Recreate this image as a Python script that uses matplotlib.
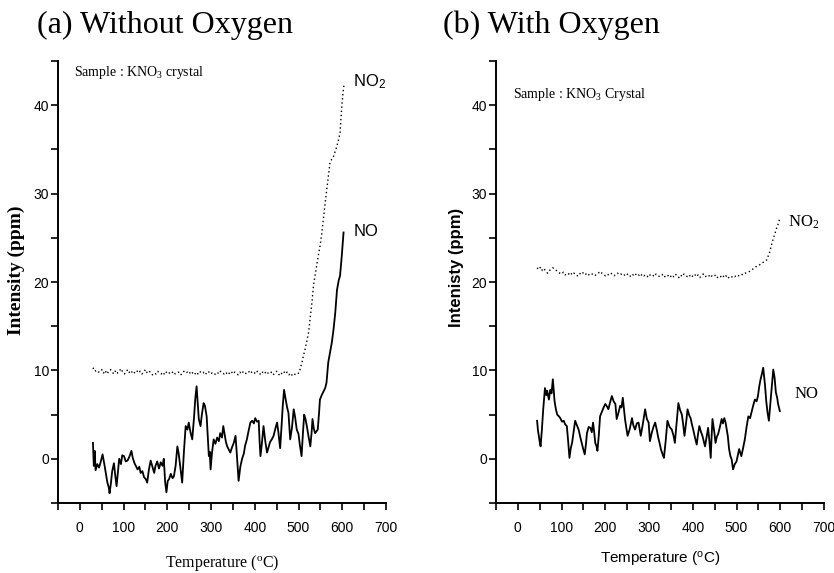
#!/usr/bin/env python3
"""KNO3 crystal decomposition: NO / NO2 evolution without and with oxygen."""

import matplotlib
matplotlib.use('Agg')
import matplotlib.pyplot as plt
from matplotlib.ticker import MultipleLocator

plt.rcParams['mathtext.default'] = 'regular'

SERIF = ['Liberation Serif', 'DejaVu Serif']
SANS = ['Liberation Sans', 'DejaVu Sans']

# (a) without oxygen -- NO
a_no_t = [30, 32, 34, 36, 40, 44, 48, 52, 56, 60, 63, 66, 68, 71, 74, 78, 81, 84, 87, 90,
          94, 97, 101, 105, 109, 113, 118, 121, 125, 128, 132, 136, 139, 143, 147, 151, 154,
          158, 162, 166, 170, 173, 177, 181, 185, 189, 192, 195, 198, 201, 204, 208, 212, 215,
          219, 223, 226, 230, 234, 238, 242, 246, 249, 253, 257, 261, 264, 267, 270, 272, 276,
          279, 283, 286, 290, 293, 295, 297, 299, 302, 306, 310, 314, 318, 321, 325, 328, 331,
          334, 337, 341, 344, 348, 352, 356, 359, 363, 367, 371, 375, 378, 382, 386, 390, 394,
          398, 401, 405, 409, 411, 413, 416, 420, 424, 428, 432, 435, 439, 443, 447, 451, 454,
          458, 461, 464, 467, 470, 474, 477, 479, 481, 485, 489, 492, 496, 500, 503, 507, 510,
          513, 516, 519, 523, 527, 530, 532, 535, 538, 541, 544, 547, 549, 553, 557, 561, 564,
          568, 572, 576, 580, 584, 588, 592, 595, 599, 603]
a_no = [1.8, -0.8, 0.9, -1.3, -0.6, -1.0, -0.3, 0.5, -0.6, -1.8, -2.7, -3.2, -3.9, -2.8, -1.4,
        -0.5, -1.9, -3.1, -1.5, 0.0, -0.6, 0.4, 0.3, -0.3, -0.2, 0.2, 0.9, 0.1, -0.5, -0.8, -1.2,
        -0.9, -1.6, -1.4, -2.1, -2.3, -2.7, -1.2, -0.2, -0.9, -1.6, -0.8, -0.3, -1.1, -0.4, -0.8,
        0.0, -2.6, -3.8, -2.5, -2.3, -1.7, -2.2, -2.0, -0.8, 1.4, 0.6, -1.0, -2.7, 0.8, 3.7, 3.3,
        4.1, 3.0, 2.2, 4.6, 6.8, 8.2, 6.0, 4.5, 3.7, 5.0, 6.3, 6.0, 4.8, 2.0, 0.3, 0.8, -1.2, 0.6,
        2.2, 1.7, 2.4, 2.0, 2.9, 2.4, 3.7, 2.8, 1.9, 1.4, 1.0, 0.7, 1.3, 1.8, 2.6, 0.5, -2.5,
        -0.9, 0.0, 0.6, 1.5, 2.2, 3.2, 4.1, 4.3, 4.0, 4.6, 4.2, 4.3, 2.0, 0.3, 1.6, 3.7, 2.0, 0.7,
        1.4, 1.9, 2.2, 2.6, 3.4, 4.1, 3.0, 1.2, 3.5, 6.0, 7.8, 6.9, 5.8, 5.2, 3.6, 2.2, 3.5, 5.6,
        4.8, 3.3, 2.8, 1.6, 0.3, 2.8, 5.0, 4.5, 3.7, 2.5, 1.4, 3.0, 4.5, 3.4, 2.9, 3.1, 3.3, 5.2,
        6.7, 7.2, 7.6, 8.0, 8.6, 10.9, 12.0, 13.1, 14.6, 16.5, 19.1, 20.2, 20.7, 23.0, 25.6]

# (a) without oxygen -- NO2
a_no2_t = [30, 34, 38, 42, 46, 50, 54, 58, 62, 66, 70, 74, 78, 82, 86, 90, 94, 98, 102, 106,
           110, 114, 118, 122, 126, 130, 134, 138, 142, 146, 150, 154, 158, 162, 166, 170, 174,
           178, 182, 186, 190, 194, 198, 202, 206, 210, 214, 218, 222, 226, 230, 234, 238, 242,
           246, 250, 254, 258, 262, 266, 270, 274, 278, 282, 286, 290, 294, 298, 302, 306, 310,
           314, 318, 322, 326, 330, 334, 338, 342, 346, 350, 354, 358, 362, 366, 370, 374, 378,
           382, 386, 390, 394, 398, 402, 406, 410, 414, 418, 422, 426, 430, 434, 438, 442, 446,
           450, 454, 458, 462, 466, 470, 474, 478, 482, 486, 490, 494, 498, 502, 505, 508, 511,
           515, 519, 523, 527, 531, 534, 538, 542, 546, 549, 553, 557, 561, 565, 569, 572, 576,
           580, 584, 588, 592, 595, 599, 602, 604]
a_no2 = [10.3, 9.9, 10.0, 9.8, 9.9, 10.1, 9.7, 10.0, 9.6, 9.9, 10.1, 9.8, 9.6, 10.0, 9.7, 9.9,
         10.2, 9.8, 9.6, 9.9, 10.1, 9.7, 9.9, 9.6, 9.8, 10.0, 9.7, 9.9, 9.6, 9.8, 10.1, 9.7, 9.9,
         9.8, 9.5, 9.7, 9.6, 9.9, 9.7, 9.6, 9.8, 9.5, 9.8, 9.9, 9.6, 9.7, 9.9, 9.6, 9.7, 9.8, 9.5,
         9.6, 9.9, 9.7, 9.8, 9.6, 9.9, 9.7, 9.5, 9.8, 9.6, 9.9, 9.7, 9.8, 9.5, 9.7, 9.9, 9.6, 9.7,
         9.5, 9.6, 9.8, 9.6, 9.9, 9.7, 9.6, 9.8, 9.5, 9.7, 9.9, 9.6, 9.8, 9.7, 9.5, 9.8, 9.6, 9.9,
         9.7, 9.6, 9.8, 10.0, 9.7, 9.8, 9.6, 9.9, 9.7, 9.5, 9.8, 9.6, 9.9, 9.7, 9.6, 9.8, 9.5,
         9.7, 9.9, 9.6, 9.4, 9.7, 9.9, 9.6, 9.8, 9.5, 9.7, 9.4, 9.6, 9.5, 9.6, 9.8, 10.4, 10.9,
         11.6, 12.4, 13.3, 14.3, 16.0, 17.8, 19.5, 20.8, 22.0, 23.2, 24.0, 25.4, 27.2, 29.0, 30.6,
         32.3, 33.5, 33.9, 34.2, 34.8, 35.4, 36.2, 36.9, 39.9, 41.5, 42.3]

# (b) with oxygen -- NO
b_no_t = [44, 46, 48, 50, 52, 55, 58, 62, 65, 67, 71, 74, 77, 80, 84, 87, 90, 94, 97, 101,
          105, 108, 112, 115, 118, 121, 124, 128, 131, 135, 139, 143, 147, 150, 153, 156, 158,
          162, 166, 169, 172, 175, 177, 180, 182, 185, 188, 192, 196, 200, 204, 207, 211, 215,
          219, 223, 226, 230, 234, 237, 240, 243, 245, 248, 251, 256, 261, 264, 268, 272, 276,
          279, 281, 286, 291, 295, 299, 302, 306, 310, 314, 318, 321, 324, 327, 331, 334, 338,
          342, 347, 352, 356, 359, 363, 367, 371, 375, 378, 381, 385, 388, 392, 395, 398, 401,
          405, 409, 412, 415, 419, 422, 425, 428, 432, 435, 438, 441, 443, 445, 449, 452, 455,
          458, 462, 466, 469, 472, 475, 477, 480, 483, 486, 489, 492, 496, 500, 503, 506, 509,
          511, 515, 519, 523, 527, 531, 534, 538, 542, 546, 549, 552, 555, 558, 561, 565, 568,
          571, 574, 577, 580, 584, 587, 590, 593, 595, 597, 599]
b_no = [4.3, 3.2, 2.6, 1.9, 1.4, 3.3, 5.6, 8.0, 7.2, 7.7, 6.7, 7.8, 7.4, 9.0, 6.5, 5.6, 5.0, 4.8,
        4.6, 4.2, 4.3, 3.9, 3.7, 2.0, 0.1, 1.2, 1.8, 3.2, 4.3, 3.8, 3.3, 2.4, 1.6, 1.0, 0.5, 1.8,
        2.9, 3.6, 3.5, 3.0, 4.1, 2.8, 1.8, 1.4, 0.9, 2.6, 4.8, 5.3, 5.8, 6.2, 5.9, 5.6, 6.4, 7.1,
        6.5, 6.2, 4.5, 5.2, 6.0, 5.8, 6.9, 5.4, 4.5, 3.5, 2.6, 3.4, 4.6, 3.8, 3.3, 4.0, 4.1, 3.2,
        2.6, 4.0, 5.6, 4.5, 4.1, 2.0, 2.9, 3.6, 4.1, 3.2, 2.4, 1.8, 1.1, 0.5, 0.1, 2.0, 4.3, 3.6,
        3.3, 2.6, 1.8, 4.0, 6.3, 5.5, 5.0, 3.9, 2.6, 4.2, 5.6, 4.9, 4.6, 3.9, 3.3, 2.4, 1.6, 2.8,
        3.7, 3.0, 2.6, 2.0, 1.4, 2.6, 3.5, 2.0, 0.1, 2.5, 4.5, 3.1, 1.8, 2.5, 2.8, 3.6, 4.5, 4.0,
        4.6, 4.1, 3.5, 2.6, 1.1, 0.3, -0.1, -1.2, -0.6, -0.3, 0.4, 1.1, 0.6, 0.3, 1.2, 2.2, 3.6,
        4.8, 4.6, 5.2, 6.0, 6.7, 6.5, 7.1, 8.2, 9.0, 9.6, 10.3, 8.4, 6.5, 5.2, 4.3, 6.0, 7.8,
        10.1, 9.2, 7.5, 6.9, 6.2, 5.8, 5.4]

# (b) with oxygen -- NO2
b_no2_t = [44, 48, 52, 56, 60, 64, 68, 72, 76, 80, 84, 88, 92, 96, 100, 104, 108, 112, 116, 120,
           124, 128, 132, 136, 140, 144, 148, 152, 156, 160, 164, 168, 172, 176, 180, 184, 188,
           192, 196, 200, 204, 208, 212, 216, 220, 224, 228, 232, 236, 240, 244, 248, 252, 256,
           260, 264, 268, 272, 276, 280, 284, 288, 292, 296, 300, 304, 308, 312, 316, 320, 324,
           328, 332, 336, 340, 344, 348, 352, 356, 360, 364, 368, 372, 376, 380, 384, 388, 392,
           396, 400, 404, 408, 412, 416, 420, 424, 428, 432, 436, 440, 444, 448, 452, 456, 460,
           464, 468, 472, 476, 480, 484, 488, 492, 496, 500, 505, 510, 515, 520, 525, 530, 534,
           538, 543, 548, 552, 556, 560, 564, 569, 572, 576, 580, 584, 588, 591, 594, 597, 599]
b_no2 = [21.6, 21.4, 21.7, 21.3, 21.5, 21.2, 21.0, 21.3, 21.4, 21.6, 21.5, 21.3, 21.1, 21.0, 20.9,
         21.1, 20.8, 21.0, 20.9, 21.1, 20.8, 21.0, 20.9, 20.7, 21.0, 20.9, 21.1, 20.8, 20.9, 20.7,
         20.9, 21.0, 20.8, 20.7, 20.9, 21.0, 21.2, 21.0, 20.9, 20.7, 20.9, 20.8, 21.0, 20.9, 20.7,
         20.9, 21.0, 20.8, 20.9, 20.7, 20.8, 21.0, 20.8, 20.6, 20.9, 20.8, 21.0, 20.7, 20.8, 20.6,
         20.9, 20.7, 20.8, 20.6, 20.9, 20.7, 20.8, 20.6, 20.9, 20.8, 20.6, 20.7, 20.9, 20.6, 20.8,
         20.7, 20.5, 20.8, 20.6, 20.9, 20.7, 20.5, 20.8, 20.6, 20.9, 20.7, 20.6, 20.8, 20.5, 20.7,
         20.9, 20.6, 20.8, 20.5, 20.7, 20.9, 20.6, 20.7, 20.8, 20.5, 20.7, 20.6, 20.8, 20.5, 20.7,
         20.6, 20.8, 20.5, 20.7, 20.4, 20.6, 20.5, 20.7, 20.6, 20.8, 20.7, 20.9, 20.8, 21.0, 21.1,
         21.2, 21.3, 21.5, 21.7, 21.8, 21.9, 22.1, 22.2, 22.3, 22.5, 22.9, 23.4, 24.2, 24.9, 25.5,
         26.0, 26.4, 26.8, 27.3]


def style_axes(ax):
    ax.set_xlim(-50, 700)
    ax.set_ylim(-5, 45)
    ax.spines['top'].set_visible(False)
    ax.spines['right'].set_visible(False)
    for side in ('left', 'bottom'):
        ax.spines[side].set_linewidth(1.4)
    ax.xaxis.set_major_locator(MultipleLocator(100))
    ax.xaxis.set_minor_locator(MultipleLocator(50))
    ax.yaxis.set_major_locator(MultipleLocator(10))
    ax.yaxis.set_minor_locator(MultipleLocator(5))
    ax.tick_params(which='both', direction='out', length=5, width=1.2)
    ax.tick_params(axis='x', pad=8)
    ax.tick_params(axis='y', pad=1.5)
    for lbl in ax.get_xticklabels() + ax.get_yticklabels():
        lbl.set_family(SANS)
        lbl.set_fontsize(10)


fig = plt.figure(figsize=(8.34, 5.73), dpi=100)
ax1 = fig.add_axes([0.0695, 0.1222, 0.3933, 0.7713])
ax2 = fig.add_axes([0.5947, 0.1222, 0.3933, 0.7713])

# panel (a)
ax1.plot(a_no_t, a_no, color='black', lw=1.3)
ax1.plot(a_no2_t, a_no2, color='black', lw=1.0, ls=(0, (1, 2)))
style_axes(ax1)
ax1.set_ylabel('Intensity (ppm)', family=SERIF, fontweight='bold', fontsize=14)
ax1.yaxis.set_label_coords(-0.10, 0.527)
ax1.set_xlabel('Temperature ($^{o}$C)', family=SERIF, fontsize=11.5, labelpad=13)
ax1.text(-14, 43.7, 'Sample : KNO$_3$ crystal', family=SERIF, fontsize=10, va='center')
ax1.text(625, 42.7, 'NO$_2$', family=SANS, fontsize=12, va='center')
ax1.text(625, 25.7, 'NO', family=SANS, fontsize=12, va='center')

# panel (b)
ax2.plot(b_no_t, b_no, color='black', lw=1.3)
ax2.plot(b_no2_t, b_no2, color='black', lw=1.0, ls=(0, (1, 2)))
style_axes(ax2)
ax2.set_ylabel('Intenisty (ppm)', family=SANS, fontweight='bold', fontsize=12)
ax2.yaxis.set_label_coords(-0.098, 0.534)
ax2.set_xlabel('Temperature ($^{o}$C)', family=SANS, fontsize=11, labelpad=11)
ax2.text(-12, 41.2, 'Sample : KNO$_3$ Crystal', family=SERIF, fontsize=10, va='center')
ax2.text(617, 26.7, 'NO$_2$', family=SERIF, fontsize=12, va='center')
ax2.text(633, 7.3, 'NO', family=SERIF, fontsize=12, va='center')

fig.text(37 / 834, 1 - 25 / 573, '(a) Without Oxygen', family=SERIF, fontsize=23,
         ha='left', va='center')
fig.text(443 / 834, 1 - 25 / 573, '(b) With Oxygen', family=SERIF, fontsize=23,
         ha='left', va='center')

fig.savefig('out.png', dpi=100)
